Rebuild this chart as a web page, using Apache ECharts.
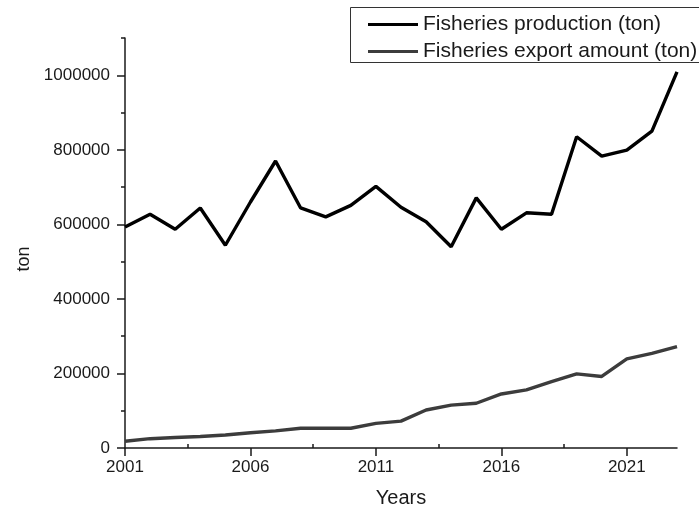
<!DOCTYPE html>
<html>
<head>
<meta charset="utf-8">
<script src="https://cdn.jsdelivr.net/npm/echarts@6/dist/echarts.min.js"></script>
<style>
  html, body { margin: 0; padding: 0; background: #fff; }
  #chart { width: 699px; height: 513px; }
</style>
</head>
<body>
<div id="chart"></div>
<script>
// Annual figures, 2001-2023
const years = [2001, 2002, 2003, 2004, 2005, 2006, 2007, 2008, 2009, 2010, 2011, 2012,
               2013, 2014, 2015, 2016, 2017, 2018, 2019, 2020, 2021, 2022, 2023];
const production = [593000, 627000, 587000, 644000, 544000, 660000, 770000, 644000, 620000,
                    651000, 702000, 646000, 607000, 540000, 671000, 587000, 631000, 627000,
                    835000, 783000, 799000, 850000, 1009000];
const exportAmount = [18000, 25000, 28000, 31000, 35000, 41000, 46000, 53000, 53000, 53000,
                      66000, 72000, 102000, 115000, 120000, 145000, 156000, 178000, 199000,
                      192000, 239000, 254000, 272000];

// Axis ticks
const xMajorTicks = [2001, 2006, 2011, 2016, 2021];
const xMinorTicks = [2003.5, 2008.5, 2013.5, 2018.5];
const yMajorTicks = [0, 200000, 400000, 600000, 800000, 1000000];
const yMinorTicks = [100000, 300000, 500000, 700000, 900000, 1100000];

const font = 'Liberation Sans, Arial, sans-serif';
const axisColor = '#1a1a1a';
const prodColor = '#000';
const exportColor = '#3c3c3c';

const chart = echarts.init(document.getElementById('chart'));

const xBase = { type: 'value', min: 2001, max: 2023, gridIndex: 0, splitLine: { show: false } };
const yBase = { type: 'value', min: 0, max: 1100000, gridIndex: 0, splitLine: { show: false } };

chart.setOption({
  backgroundColor: '#fff',
  animation: false,
  grid: { left: 125, top: 38, right: 22, bottom: 64 },
  // legend frame runs past the right edge of the canvas
  graphic: [{
    type: 'rect',
    left: 350, top: 7, z: 0,
    shape: { width: 420, height: 55 },
    style: { fill: '#fff', stroke: '#333', lineWidth: 1 }
  }],
  legend: {
    orient: 'vertical',
    left: 350,
    top: 7,
    padding: [7, 10, 2, 18],
    itemGap: 6,
    itemWidth: 50,
    itemHeight: 3,
    z: 5,
    textStyle: { fontFamily: font, fontSize: 21, color: '#1a1a1a', lineHeight: 20 },
    data: [
      { name: 'Fisheries production (ton)', icon: 'rect', itemStyle: { color: prodColor } },
      { name: 'Fisheries export amount (ton)', icon: 'rect', itemStyle: { color: exportColor } }
    ]
  },
  xAxis: [
    Object.assign({}, xBase, {
      name: 'Years',
      nameLocation: 'middle',
      nameGap: 40,
      nameTextStyle: { fontFamily: font, fontSize: 20, color: '#1a1a1a' },
      axisLine: { onZero: false, lineStyle: { color: axisColor, width: 1.5 } },
      axisTick: { show: true, inside: false, length: 8, customValues: xMajorTicks,
                  lineStyle: { color: axisColor, width: 1.5 } },
      axisLabel: { customValues: xMajorTicks, margin: 11, fontFamily: font, fontSize: 17,
                   color: '#1a1a1a', formatter: v => String(v) }
    }),
    Object.assign({}, xBase, {
      axisLine: { show: false },
      axisTick: { show: true, length: 4, customValues: xMinorTicks,
                  lineStyle: { color: axisColor, width: 1.5 } },
      axisLabel: { show: false }
    })
  ],
  yAxis: [
    Object.assign({}, yBase, {
      name: 'ton',
      nameLocation: 'middle',
      nameGap: 88,
      nameRotate: 90,
      nameTextStyle: { fontFamily: font, fontSize: 18, color: '#1a1a1a', padding: [0, 32, 0, 0] },
      axisLine: { show: true, onZero: false, lineStyle: { color: axisColor, width: 1.5 } },
      axisTick: { show: true, length: 8, customValues: yMajorTicks,
                  lineStyle: { color: axisColor, width: 1.5 } },
      axisLabel: { customValues: yMajorTicks, margin: 15, fontFamily: font, fontSize: 17,
                   color: '#1a1a1a', formatter: v => String(v) }
    }),
    Object.assign({}, yBase, {
      position: 'left',
      axisLine: { show: false },
      axisTick: { show: true, length: 4, customValues: yMinorTicks,
                  lineStyle: { color: axisColor, width: 1.5 } },
      axisLabel: { show: false }
    })
  ],
  series: [
    {
      name: 'Fisheries production (ton)',
      type: 'line',
      xAxisIndex: 0,
      yAxisIndex: 0,
      symbol: 'none',
      lineStyle: { color: prodColor, width: 3.4 },
      itemStyle: { color: prodColor },
      z: 3,
      data: years.map((y, i) => [y, production[i]])
    },
    {
      name: 'Fisheries export amount (ton)',
      type: 'line',
      xAxisIndex: 0,
      yAxisIndex: 0,
      symbol: 'none',
      lineStyle: { color: exportColor, width: 3.4 },
      itemStyle: { color: exportColor },
      z: 2,
      data: years.map((y, i) => [y, exportAmount[i]])
    }
  ]
});
</script>
</body>
</html>
